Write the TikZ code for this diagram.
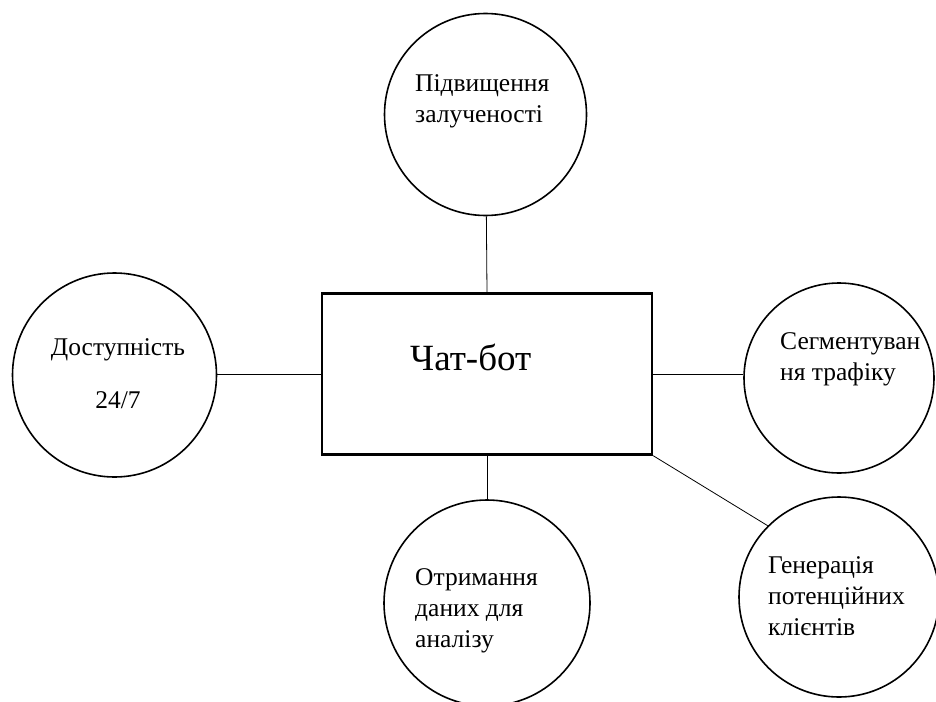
\documentclass[tikz,border=0pt]{standalone}
\usepackage{fontspec}
\setmainfont{Liberation Serif}
\newfontfamily\uaserif{Liberation Serif}
\usetikzlibrary{positioning}
\tikzset{
  idea/.style={draw, circle, line width=1.6pt, inner sep=0pt},
  idealabel/.style={anchor=base west, align=left, inner sep=0pt, font=\uaserif\fontsize{25.5}{31}\selectfont},
  link/.style={line width=0.8pt}
}
\begin{document}
\begin{tikzpicture}[x=1pt,y=-1pt]
		\useasboundingbox (0,0) rectangle (936,701);
		\clip (0,0) rectangle (936,701);
		% centre box
		\node[draw, line width=2.4pt, minimum width=330pt, minimum height=161pt, inner sep=0pt] (chat) at (487,374) {};
		\node[anchor=base west, inner sep=0pt, font=\uaserif\fontsize{37}{42}\selectfont] (chattext) at (410,370) {Чат-бот};
		% circles round it
		\node[idea, minimum size=202pt] (engage) at (485.5,114.5) {};
		\node[idea, minimum size=204pt] (access) at (114.5,375) {};
		\node[idea, minimum size=190pt] (segment) at (839,378) {};
		\node[idea, minimum size=206pt] (data) at (487,603) {};
		\node[idea, minimum size=200pt] (leads) at (839,597) {};
		% texts (base = last line)
		\node[idealabel] (engagetext) at (415,122) {Підвищення\\залученості};
		\node[idealabel, anchor=base, align=center] (accesstext) at (118,408) {Доступність\\[22pt]24/7};
		\node[idealabel] (segmenttext) at (780,380) {Сегментуван\\ня трафіку};
		\node[idealabel] (datatext) at (415,647) {Отримання\\даних для\\аналізу};
		\node[idealabel] (leadstext) at (768,635) {Генерація\\потенційних\\клієнтів};
		% links
		\draw[link] (chat.north) -- (engage);
		\draw[link] (chat.west -| access.east) -- (chat.west);
		\draw[link] (chat.east) -- (chat.east -| segment.west);
		\draw[link] (chat.south) -- (data);
		\draw[link] (chat.south east) -- (leads.135);
\end{tikzpicture}
\end{document}
